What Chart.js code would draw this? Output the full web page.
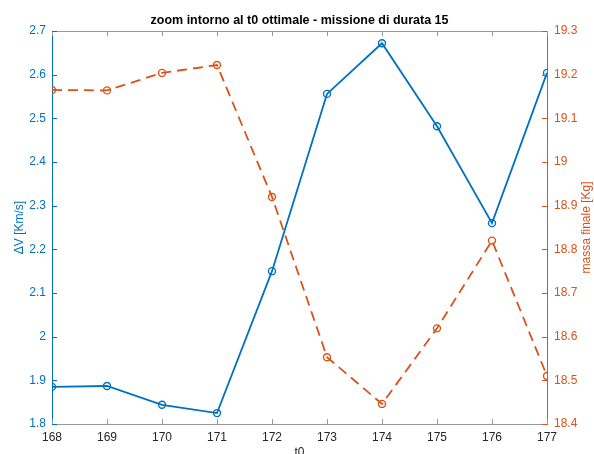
<!DOCTYPE html>
<html>
<head>
<meta charset="utf-8">
<script src="https://cdn.jsdelivr.net/npm/chart.js@4/dist/chart.umd.min.js"></script>
<style>
    html, body { margin: 0; padding: 0; background: #fff; }
</style>
</head>
<body>
<canvas id="statchart" width="594" height="454"></canvas>
<script>
var t0 = [168, 169, 170, 171, 172, 173, 174, 175, 176, 177];
var deltaV = [1.885, 1.887, 1.844, 1.825, 2.150, 2.556, 2.672, 2.482, 2.260, 2.604];
var massaFinale = [19.165, 19.164, 19.204, 19.222, 18.920, 18.553, 18.446, 18.619, 18.820, 18.510];

var xTicks = [168, 169, 170, 171, 172, 173, 174, 175, 176, 177];
var leftTicks = [1.8, 1.9, 2, 2.1, 2.2, 2.3, 2.4, 2.5, 2.6, 2.7];
var rightTicks = [18.4, 18.5, 18.6, 18.7, 18.8, 18.9, 19, 19.1, 19.2, 19.3];

var titleText = 'zoom intorno al t0 ottimale - missione di durata 15';
var xLabel = 't0';
var leftLabel = '\u0394V [Km/s]';
var rightLabel = 'massa finale [Kg]';

var blue = '#0072BD';
var orange = '#D95319';
var gray = '#999999';
var font = '"Liberation Sans", Arial, Helvetica, sans-serif';

function fmt(v) {
    return String(parseFloat(Number(v).toFixed(2)));
}

function setTicks(list) {
    return function (scale) {
        scale.ticks = list.map(function (v) { return {value: v}; });
    }
}

// matlab style: ticks pointing inward, box on top, rotated labels
var decorations = {
    id: 'decorations',
    afterDraw: function (chart) {
        var ctx = chart.ctx;
        var a = chart.chartArea;
        var x = chart.scales.x, y = chart.scales.y, y1 = chart.scales.y1;
        var len = 5;
        ctx.save();
        ctx.lineWidth = 1;

        ctx.strokeStyle = gray;
        ctx.beginPath();
        ctx.moveTo(a.left, a.top + 0.5);
        ctx.lineTo(a.right, a.top + 0.5);
        ctx.stroke();

        ctx.beginPath();
        x.ticks.forEach(function (t) {
            var px = Math.round(x.getPixelForValue(t.value)) + 0.5;
            ctx.moveTo(px, a.bottom);
            ctx.lineTo(px, a.bottom - len);
            ctx.moveTo(px, a.top);
            ctx.lineTo(px, a.top + len);
        });
        ctx.stroke();

        ctx.strokeStyle = blue;
        ctx.beginPath();
        y.ticks.forEach(function (t) {
            var py = Math.round(y.getPixelForValue(t.value)) + 0.5;
            ctx.moveTo(a.left, py);
            ctx.lineTo(a.left + len, py);
        });
        ctx.stroke();

        ctx.strokeStyle = orange;
        ctx.beginPath();
        y1.ticks.forEach(function (t) {
            var py = Math.round(y1.getPixelForValue(t.value)) + 0.5;
            ctx.moveTo(a.right, py);
            ctx.lineTo(a.right - len, py);
        });
        ctx.stroke();

        var midY = (a.top + a.bottom) / 2;
        ctx.textAlign = 'center';
        ctx.textBaseline = 'middle';

        ctx.fillStyle = '#000';
        ctx.font = 'bold 12.5px ' + font;
        ctx.fillText(titleText, (a.left + a.right) / 2, 21);

        ctx.fillStyle = '#262626';
        ctx.font = '12px ' + font;
        ctx.fillText(xLabel, (a.left + a.right) / 2, 453);

        ctx.fillStyle = blue;
        ctx.translate(20, midY);
        ctx.rotate(-Math.PI / 2);
        ctx.fillText(leftLabel, 0, 0);
        ctx.rotate(Math.PI / 2);
        ctx.translate(-20, -midY);

        ctx.fillStyle = orange;
        ctx.translate(587, midY);
        ctx.rotate(-Math.PI / 2);
        ctx.fillText(rightLabel, 0, 0);
        ctx.restore();
    }
};

var points = t0.map(function (t, i) { return {x: t, y: deltaV[i]}; });
var points2 = t0.map(function (t, i) { return {x: t, y: massaFinale[i]}; });

var ctx = document.getElementById('statchart').getContext('2d');
var chart = new Chart(ctx, {
    type: 'line',
    data: {
        datasets: [{
            label: leftLabel,
            data: points,
            yAxisID: 'y',
            borderColor: blue,
            backgroundColor: 'transparent',
            pointBorderColor: blue,
            pointBackgroundColor: 'transparent',
            borderWidth: 1.8,
            pointRadius: 3.5,
            pointBorderWidth: 1.4,
            fill: false,
            tension: 0
        }, {
            label: rightLabel,
            data: points2,
            yAxisID: 'y1',
            borderColor: orange,
            backgroundColor: 'transparent',
            pointBorderColor: orange,
            pointBackgroundColor: 'transparent',
            borderWidth: 1.8,
            borderDash: [10, 6],
            pointRadius: 3.5,
            pointBorderWidth: 1.4,
            fill: false,
            tension: 0
        }]
    },
    options: {
        responsive: false,
        animation: false,
        devicePixelRatio: 1,
        layout: {padding: {top: 31, left: 0, right: 0, bottom: 0}},
        plugins: {legend: {display: false}, tooltip: {enabled: false}},
        scales: {
            x: {
                type: 'linear',
                min: 168, max: 177,
                afterBuildTicks: setTicks(xTicks),
                afterFit: function (s) { s.height = 30; },
                grid: {drawOnChartArea: false, drawTicks: false},
                border: {color: gray, width: 1},
                ticks: {color: '#262626', padding: 6, font: {family: font, size: 12}, callback: fmt}
            },
            y: {
                position: 'left',
                min: 1.8, max: 2.7,
                afterBuildTicks: setTicks(leftTicks),
                afterFit: function (s) { s.width = 52; },
                grid: {drawOnChartArea: false, drawTicks: false},
                border: {color: blue, width: 1},
                ticks: {color: blue, padding: 6, font: {family: font, size: 12}, callback: fmt}
            },
            y1: {
                position: 'right',
                min: 18.4, max: 19.3,
                afterBuildTicks: setTicks(rightTicks),
                afterFit: function (s) { s.width = 47; },
                grid: {drawOnChartArea: false, drawTicks: false},
                border: {color: orange, width: 1},
                ticks: {color: orange, padding: 7, font: {family: font, size: 12}, callback: fmt}
            }
        }
    },
    plugins: [decorations]
});
</script>
</body>
</html>
